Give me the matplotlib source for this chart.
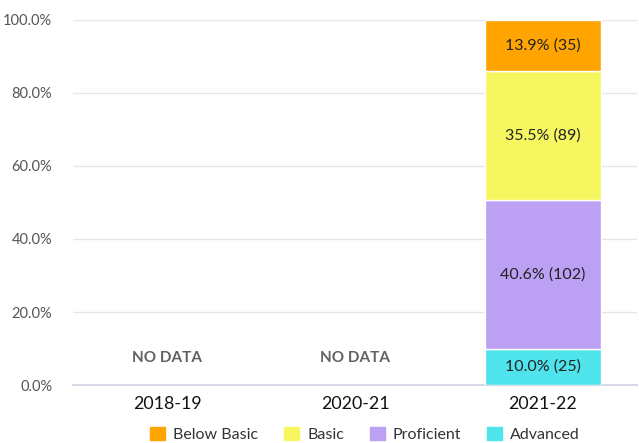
import numpy as np
import matplotlib.pyplot as plt
from matplotlib.patches import Patch

plt.rcParams['font.family'] = ['Lato', 'DejaVu Sans']

years = ["2018-19", "2020-21", "2021-22"]
levels = ["Advanced", "Proficient", "Basic", "Below Basic"]
pct = {
    "Advanced": [np.nan, np.nan, 10.0],
    "Proficient": [np.nan, np.nan, 40.6],
    "Basic": [np.nan, np.nan, 35.5],
    "Below Basic": [np.nan, np.nan, 13.9],
}
counts = {
    "Advanced": [None, None, 25],
    "Proficient": [None, None, 102],
    "Basic": [None, None, 89],
    "Below Basic": [None, None, 35],
}
colors = {
    "Advanced": "#4FE3EB",
    "Proficient": "#BBA0F3",
    "Basic": "#F6F760",
    "Below Basic": "#FFA400",
}

fig = plt.figure(figsize=(6.39, 4.43), dpi=100)
ax = fig.add_axes([0.1142, 0.1309, 0.8826, 0.824])

x = np.arange(len(years))
bottom = np.zeros(len(years))
for lv in levels:
    vals = np.nan_to_num(np.array(pct[lv], dtype=float))
    has = vals > 0
    ax.bar(x[has], vals[has], 0.62, bottom=bottom[has], color=colors[lv],
           edgecolor="white", linewidth=1, zorder=3)
    for i, v in enumerate(vals):
        if v > 0:
            ax.text(x[i], bottom[i] + v / 2, f"{v:.1f}% ({counts[lv][i]})",
                    ha="center", va="center", fontsize=11.5, color="#222222", zorder=4)
    bottom += vals

for i in range(len(years)):
    if bottom[i] == 0:
        ax.text(x[i], 7.5, "NO DATA", ha="center", va="center",
                fontsize=11, fontweight="bold", color="#606060")

ax.set_xlim(-0.5, 2.5)
ax.set_ylim(0, 100)
ax.set_yticks(np.arange(0, 101, 20))
ax.set_yticklabels([f"{t:.1f}%" for t in np.arange(0, 101, 20)], fontsize=10.5, color="#555555")
ax.set_xticks(x)
ax.set_xticklabels(years, fontsize=12.8, color="#111111")
ax.tick_params(axis="both", length=0)
ax.tick_params(axis="y", pad=15)
ax.tick_params(axis="x", pad=8)
ax.grid(axis="y", color="#E6E6E6", linewidth=1, zorder=0)
for s in ["top", "right", "left"]:
    ax.spines[s].set_visible(False)
ax.spines["bottom"].set_color("#D6DAE6")
ax.spines["bottom"].set_linewidth(1.5)

handles = [Patch(color=colors[lv], label=lv) for lv in ["Below Basic", "Basic", "Proficient", "Advanced"]]
fig.legend(handles=handles, loc="lower center", bbox_to_anchor=(0.571, -0.03), ncol=4,
           frameon=False, fontsize=11.5, handlelength=0.94, handleheight=0.94,
           handletextpad=0.5, columnspacing=1.6, labelcolor="#333333")

fig.savefig("out.png", dpi=100)
